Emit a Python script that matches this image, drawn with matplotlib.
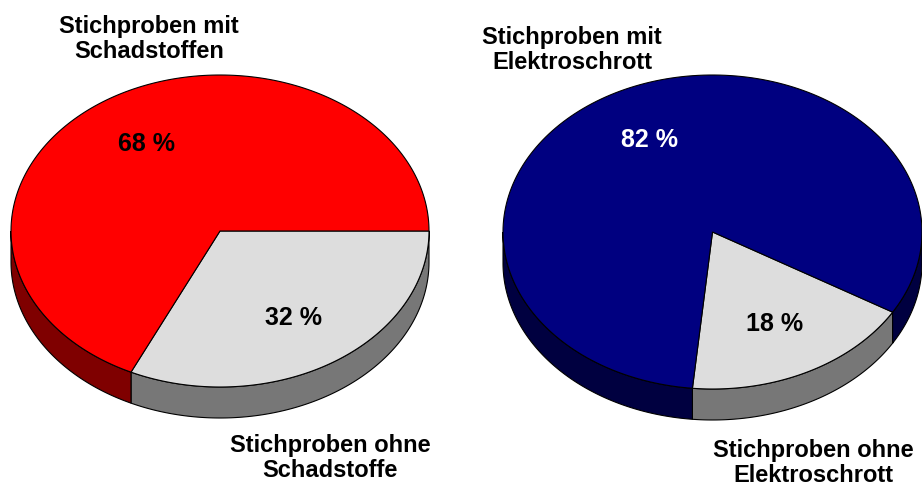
import numpy as np
import matplotlib.pyplot as plt
from matplotlib.patches import Polygon

plt.rcParams['font.family'] = ['Liberation Sans', 'DejaVu Sans']

# Daten
schad_labels = ['Stichproben ohne\nSchadstoffe', 'Stichproben mit\nSchadstoffen']
schad_values = [32, 68]
elektro_labels = ['Stichproben ohne\nElektroschrott', 'Stichproben mit\nElektroschrott']
elektro_values = [18, 82]

gray_top = '#dddddd'
gray_side = '#777777'


def arc(cx, cy, rx, ry, a0, a1, n=200):
    t = np.radians(np.linspace(a0, a1, n))
    return cx + rx * np.cos(t), cy - ry * np.sin(t)


def pie3d(ax, values, tops, sides, txtcols, cx, cy, rx, ry, depth, start):
    total = float(sum(values))
    spans = []
    a = start
    for v in values:
        b = a - 360.0 * v / total   # clockwise
        spans.append((a, b))
        a = b
    # side walls (front half only)
    for (a0, a1), sc in zip(spans, sides):
        for k in (-360, 0, 360):
            lo = max(a1 + k, -180)
            hi = min(a0 + k, 0)
            if lo < hi:
                x, y = arc(cx, cy, rx, ry, lo, hi)
                pts = np.vstack([np.column_stack([x, y]),
                                 np.column_stack([x[::-1], y[::-1] + depth])])
                ax.add_patch(Polygon(pts, closed=True, facecolor=sc,
                                     edgecolor='black', lw=0.8, zorder=1))
    # top faces
    for (a0, a1), tc, col, v in zip(spans, tops, txtcols, values):
        x, y = arc(cx, cy, rx, ry, a0, a1)
        pts = np.vstack([[cx, cy], np.column_stack([x, y])])
        ax.add_patch(Polygon(pts, closed=True, facecolor=tc,
                             edgecolor='black', lw=0.8, zorder=2))
        m = np.radians((a0 + a1) / 2)
        ax.text(cx + 0.66 * rx * np.cos(m), cy - 0.66 * ry * np.sin(m),
                f'{v} %', ha='center', va='center', fontsize=18,
                fontweight='bold', color=col, zorder=3)


fig = plt.figure(figsize=(9.22, 4.86), dpi=100)
ax = fig.add_axes([0, 0, 1, 1])
ax.set_xlim(0, 922)
ax.set_ylim(486, 0)
ax.axis('off')

pie3d(ax, schad_values, [gray_top, '#ff0000'], [gray_side, '#7f0000'],
      ['black', 'black'], 220, 231, 209, 156, 31, 0)
pie3d(ax, elektro_values, [gray_top, '#000080'], [gray_side, '#000040'],
      ['black', 'white'], 712.5, 232, 209.5, 157, 31, -30.7)

lab = dict(ha='center', va='center', fontsize=17, fontweight='bold',
           linespacing=1.15)
ax.text(149, 39, schad_labels[1], **lab)
ax.text(330, 458, schad_labels[0], **lab)
ax.text(572, 50, elektro_labels[1], **lab)
ax.text(813, 463, elektro_labels[0], **lab)

fig.savefig('out.png', dpi=100)
